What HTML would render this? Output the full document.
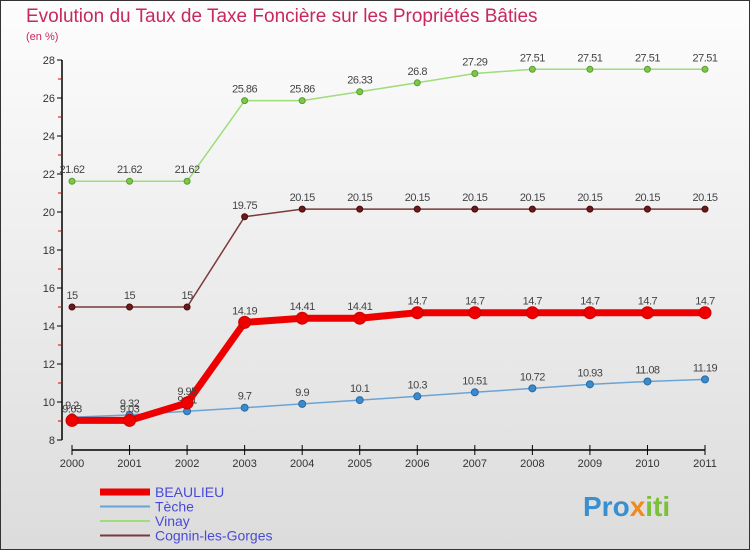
<!DOCTYPE html>
<html><head><meta charset="utf-8"><style>
body{margin:0;width:750px;height:550px;overflow:hidden;font-family:"Liberation Sans",sans-serif}
#c{position:absolute;left:0;top:0;width:748px;height:548px;border:1px solid #333;background:linear-gradient(#fdfdfd,#dcdcdc)}
</style></head><body>
<div id="c"></div>
<svg id="s" width="750" height="550" style="position:absolute;left:0;top:0">
<text x="26" y="22" font-size="19" fill="#c8285a">Evolution du Taux de Taxe Foncière sur les Propriétés Bâties</text>
<text x="26" y="40" font-size="11" fill="#c8285a">(en %)</text>
<g id="axes"></g><g id="series"></g><g id="legend"></g>
<text x="583" y="516" font-size="28" font-weight="bold" fill="#3a8fd0">Pro<tspan fill="#f08a1c">x</tspan><tspan fill="#7cbf3a">iti</tspan></text>
</svg>
<script>
const years=[2000,2001,2002,2003,2004,2005,2006,2007,2008,2009,2010,2011];
const yTicks=[8,10,12,14,16,18,20,22,24,26,28];
const beaulieu=[9.03,9.03,9.95,14.19,14.41,14.41,14.7,14.7,14.7,14.7,14.7,14.7];
const teche=[9.2,9.32,9.51,9.7,9.9,10.1,10.3,10.51,10.72,10.93,11.08,11.19];
const vinay=[21.62,21.62,21.62,25.86,25.86,26.33,26.8,27.29,27.51,27.51,27.51,27.51];
const cognin=[15,15,15,19.75,20.15,20.15,20.15,20.15,20.15,20.15,20.15,20.15];
const NS='http://www.w3.org/2000/svg';
const X=i=>72+i*(633/11), Y=v=>440-(v-8)*19;
function mk(p,t,a){const e=document.createElementNS(NS,t);for(const k in a)e.setAttribute(k,a[k]);p.appendChild(e);return e;}
const ax=document.getElementById('axes');
let e=mk(ax,'line',{x1:62,y1:60,x2:62,y2:440,stroke:'#000','stroke-width':1.5});

yTicks.forEach(v=>{mk(ax,'line',{x1:57,x2:62,y1:Y(v),y2:Y(v),stroke:'#000'});
 if(v<28)mk(ax,'line',{x1:58,x2:62,y1:Y(v+1),y2:Y(v+1),stroke:'#d00'});
 const t=mk(ax,'text',{x:55,y:Y(v)+4,'font-size':11,fill:'#333','text-anchor':'end'});t.textContent=v;
 });
e=mk(ax,'line',{x1:72,y1:450,x2:705,y2:450,stroke:'#000','stroke-width':1.5});

years.forEach((y,i)=>{mk(ax,'line',{x1:X(i),x2:X(i),y1:445,y2:455,stroke:'#000'});
 const t=mk(ax,'text',{x:X(i),y:467,'font-size':11,fill:'#333','text-anchor':'middle'});t.textContent=y;
 });
const sg=document.getElementById('series');
function series(d,col,w,r,name,fill,stroke){
 const g=mk(sg,'g',{});
 mk(g,'polyline',{points:d.map((v,i)=>X(i)+','+Y(v)).join(' '),fill:'none',stroke:col,'stroke-width':w});
 d.forEach((v,i)=>{const c=mk(g,'circle',{cx:X(i),cy:Y(v),r:r,fill:fill,stroke:stroke,'stroke-width':1});
  
  const t=mk(g,'text',{x:X(i),y:Y(v)-8,'font-size':11,fill:'#444','text-anchor':'middle','letter-spacing':'-0.5'});t.textContent=v;
  });
}
series(vinay,'#9fdc7a',1.5,3,'vinay','#7cc84a','#5a9a30');
series(cognin,'#7a3a3a',1.5,3,'cognin','#6a1a1a','#4a0a0a');
series(teche,'#6aa4d6',1.5,3.5,'teche','#3a8ad0','#2a6aa0');
series(beaulieu,'#ee0000',7,6,'beaulieu','#ee0000','#c00');
const lg=document.getElementById('legend');
[['BEAULIEU','#ee0000',7],['Tèche','#6aa4d6',2],['Vinay','#9fdc7a',2],['Cognin-les-Gorges','#7a3a3a',2]].forEach((l,i)=>{
 const y=492+i*14.5;
 const g=mk(lg,'g',{});
 mk(g,'line',{x1:100,x2:150,y1:y,y2:y,stroke:l[1],'stroke-width':l[2]});
 const t=mk(g,'text',{x:155,y:y+5,'font-size':14,fill:'#4a4ad8'});t.textContent=l[0];});
</script>
</body></html>
